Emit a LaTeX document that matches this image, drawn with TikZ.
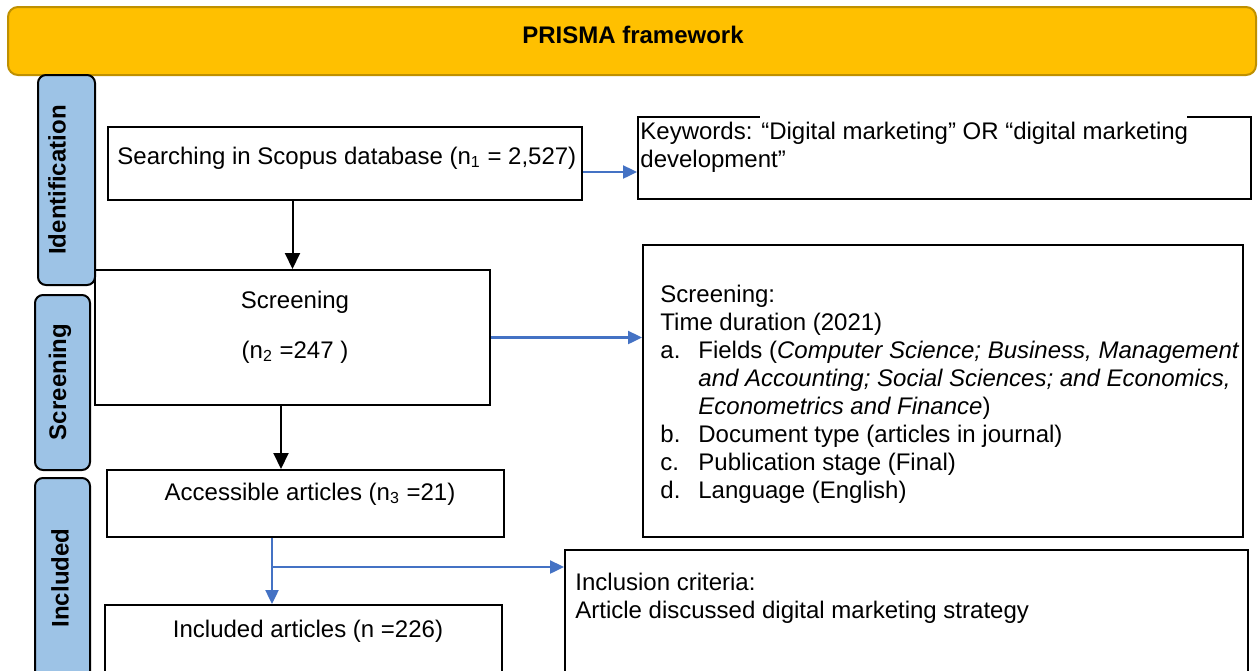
\documentclass[tikz,border=0pt]{standalone}
\usepackage{fontspec}
\setmainfont{Liberation Sans}
\usetikzlibrary{arrows.meta, positioning}
\definecolor{prismagold}{HTML}{FFC000}
\definecolor{prismaedge}{HTML}{BF9000}
\definecolor{tabblue}{HTML}{9DC3E6}
\definecolor{flowblue}{HTML}{4472C4}

\tikzset{
  box/.style={draw, line width=1pt, inner sep=0pt},
  tab/.style={draw, line width=1pt, fill=tabblue, rounded corners=4pt, inner sep=0pt},
  tabtext/.style={rotate=90, inner sep=0pt, font=\fontsize{12}{14}\selectfont\bfseries},
  txt/.style={inner sep=0pt, anchor=base west, align=left},
  blk/.style={-{Triangle[length=8pt,width=7.5pt]}, line width=1pt},
  blu/.style={-{Triangle[length=7pt,width=6.5pt]}, line width=1.2pt, color=flowblue},
}

\begin{document}
\begin{tikzpicture}[x=0.5pt, y=-0.5pt, font=\fontsize{12}{14}\selectfont]
		\useasboundingbox (0,0) rectangle (1258,670);

		\draw (632,41) node[draw=prismaedge, line width=1pt, fill=prismagold, rounded corners=5pt, minimum width=624pt, minimum height=34pt] (head) {}
		(633,35) node[font=\fontsize{12}{14}\selectfont\bfseries] (title) {PRISMA framework};

		% stage tabs
		\draw (66.5,180) node[tab, minimum width=28.5pt, minimum height=105pt] (tabid) {}
		(62.5,382.5) node[tab, minimum width=27.5pt, minimum height=87.5pt] (tabscr) {}
		(62.5,584) node[tab, minimum width=27.5pt, minimum height=106pt] (tabinc) {}
		(57,180) node[tabtext] (tabidtext) {Identification}
		(60,382) node[tabtext] (tabscrtext) {Screening}
		(60,578) node[tabtext] (tabinctext) {Included};

		% boxes
		\draw (345,163.5) node[box, minimum width=237pt, minimum height=36.5pt] (search) {}
		(944.5,158) node[box, minimum width=306.5pt, minimum height=41pt] (kw) {}
		(292.5,337.5) node[box, minimum width=197.5pt, minimum height=67.5pt] (scr) {}
		(943,391) node[box, minimum width=300pt, minimum height=146pt] (det) {}
		(305.5,503.5) node[box, minimum width=198.5pt, minimum height=33.5pt] (acc) {}
		(906.5,620) node[box, minimum width=341.5pt, minimum height=70pt] (crit) {}
		(303.5,647.5) node[box, minimum width=198.5pt, minimum height=42.5pt] (inc) {};
		\fill[white] (760,114) rectangle (1187,120);

		% texts (multi-line ones sit on their last baseline)
		\draw (117,164) node[txt] (searchtext) {Searching in Scopus database (n\textsubscript{1} = 2,527)}
		(640,167) node[txt] (kwtext) {Keywords: “Digital marketing” OR “digital marketing\\development”}
		(295,308) node[anchor=base, inner sep=0pt] (scrtext) {Screening}
		(295,358) node[anchor=base, inner sep=0pt] (scrnum) {(n\textsubscript{2} =247 )}
		(660,498) node[txt] (dettext) {Screening:\\
			Time duration (2021)\\
			\makebox[19pt][l]{a.}Fields (\textit{Computer Science; Business, Management}\\
			\hspace*{19pt}\textit{and Accounting; Social Sciences; and Economics,}\\
			\hspace*{19pt}\textit{Econometrics and Finance})\\
			\makebox[19pt][l]{b.}Document type (articles in journal)\\
			\makebox[19pt][l]{c.}Publication stage (Final)\\
			\makebox[19pt][l]{d.}Language (English)}
		(310,500) node[anchor=base, inner sep=0pt] (acctext) {Accessible articles (n\textsubscript{3} =21)}
		(575,618) node[txt] (crittext) {Inclusion criteria:\\Article discussed digital marketing strategy}
		(308,637) node[anchor=base, inner sep=0pt] (inctext) {Included articles (n =226)};

		\coordinate (fork) at (272,567);

		\draw[blk] (search.south -| scr.north) -- (scr.north);
		\draw[blk] ([xshift=-5.75pt]scr.south) -- ([xshift=-5.75pt]scr.south |- acc.north);
		\draw[blu] ([yshift=-4.25pt]search.east) -- ([yshift=-4.25pt]search.east -| kw.west);
		\draw[blu] (scr.east) -- (scr.east -| det.west);
		\draw[blu] (acc.south -| fork) -- (fork |- inc.north);
		\draw[blu] (fork) -- (fork -| crit.west);
	\end{tikzpicture}
\end{document}
